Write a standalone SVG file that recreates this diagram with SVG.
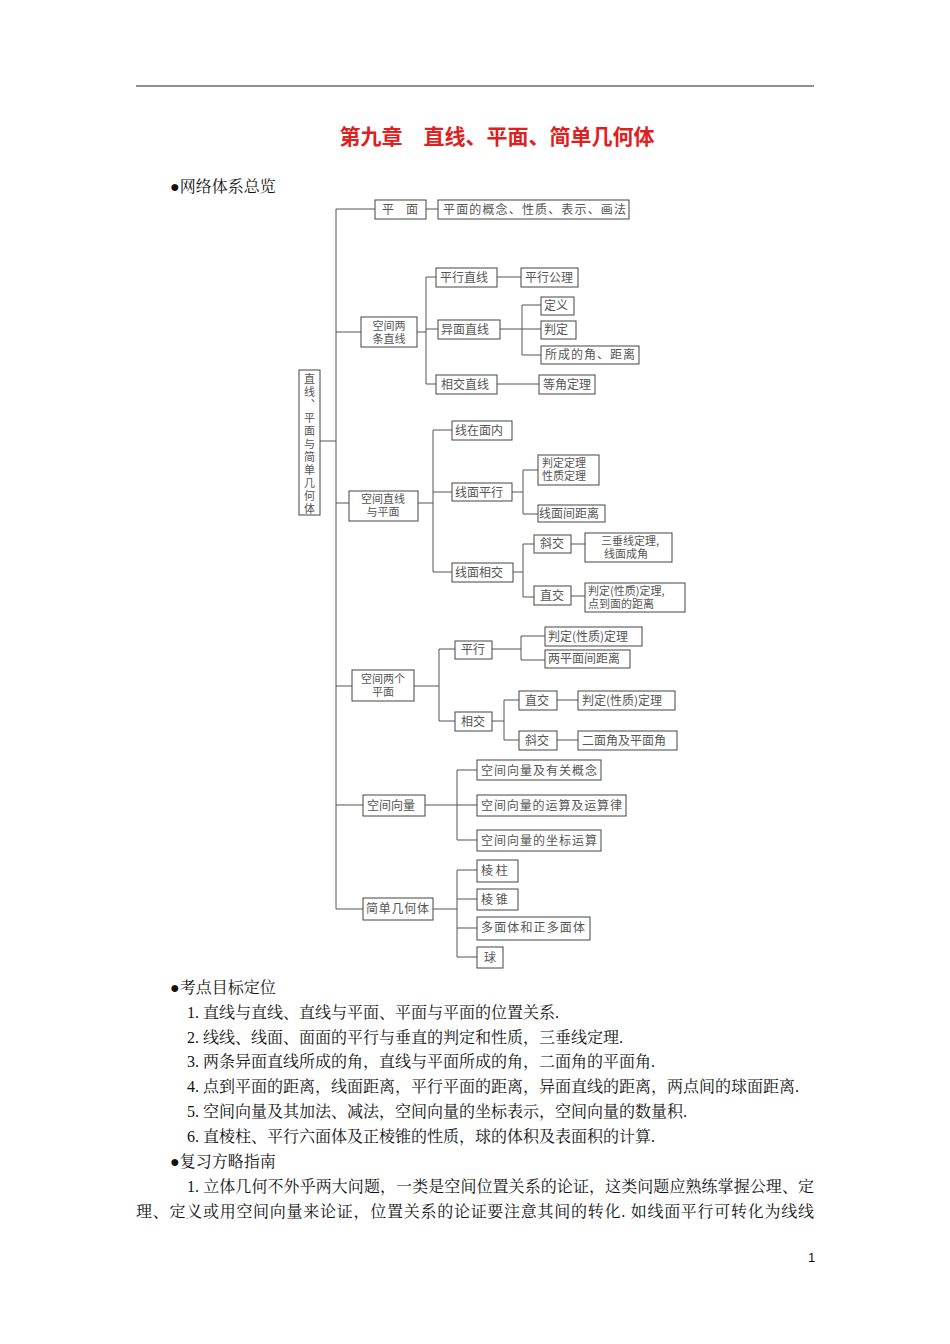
<svg xmlns="http://www.w3.org/2000/svg" width="950" height="1344" viewBox="0 0 950 1344">
<style>
.b{fill:#fff;stroke:#444;stroke-width:1}
.t{font-family:"Noto Sans CJK SC",sans-serif;font-size:12px;fill:#555}
.s{font-family:"Noto Sans CJK SC",sans-serif;font-size:11px;fill:#555}
.c{stroke:#555;stroke-width:1;fill:none}
.p{font-family:"Liberation Serif","Noto Serif CJK SC","Noto Sans CJK SC",serif;font-size:16px;fill:#111}
</style>
<rect width="950" height="1344" fill="#fff"/>
<line x1="136" y1="86" x2="814" y2="86" stroke="#222" stroke-width="1.2"/>
<text x="497" y="144" text-anchor="middle" font-family="'Noto Sans CJK SC',sans-serif" font-weight="bold" font-size="21" fill="#e02020">第九章　直线、平面、简单几何体</text>
<text class="p" x="170" y="192">●网络体系总览</text>
<g id="connectors">
<path class="c" d="M320 441H336M336 209V909M336 209H375M426 209H438M336 332H361M336 503H349M336 686H352M336 805H363M336 909H363"/>
<path class="c" d="M417 332H426M426 277V384M426 277H436M426 329H438M426 384H436M497 277H521M500 329H522M522 305V355M522 305H541M522 329H541M522 355H541M497 384H539"/>
<path class="c" d="M418 503H433M433 430V572M433 430H452M433 492H452M433 572H452M512 492H523M523 470V514M523 470H538M523 514H538M513 572H523M523 544V597M523 544H534M523 597H534M571 544H585M571 596H585"/>
<path class="c" d="M414 686H439M439 649V721M439 649H455M439 721H455M492 649H521M521 636V660M521 636H545M521 660H545M492 721H504M504 700V740M504 700H519M504 740H519M557 700H578M557 740H578"/>
<path class="c" d="M425 805H457M457 770V840M457 770H477M457 805H477M457 840H477M433 909H457M457 870V957M457 870H477M457 899H477M457 928H477M457 957H477"/>
</g>
<g id="root"><rect class="b" x="299" y="370" width="21" height="145"/>
<text class="s" x="309.5" y="373" writing-mode="tb" letter-spacing="2">直线、平面与简单几何体</text></g>
<g id="n1"><rect class="b" x="375" y="200" width="51" height="19"/><text class="t" x="400" y="214" text-anchor="middle">平　面</text></g>
<g id="n1a"><rect class="b" x="438" y="200" width="191" height="19"/><text class="t" x="443" y="214" textLength="183">平面的概念、性质、表示、画法</text></g>
<g id="n2"><rect class="b" x="361" y="317" width="56" height="30"/><text class="s" text-anchor="middle"><tspan x="389" y="330">空间两</tspan><tspan x="389" y="343">条直线</tspan></text></g>
<g id="n2a"><rect class="b" x="436" y="268" width="61" height="19"/><text class="t" x="440" y="282">平行直线</text></g>
<g id="n2b"><rect class="b" x="438" y="320" width="62" height="19"/><text class="t" x="441" y="334">异面直线</text></g>
<g id="n2c"><rect class="b" x="436" y="375" width="61" height="19"/><text class="t" x="441" y="389">相交直线</text></g>
<g id="n2a1"><rect class="b" x="521" y="268" width="57" height="19"/><text class="t" x="525" y="282">平行公理</text></g>
<g id="n2b1"><rect class="b" x="541" y="297" width="33" height="18"/><text class="t" x="544" y="310">定义</text></g>
<g id="n2b2"><rect class="b" x="541" y="321" width="35" height="18"/><text class="t" x="544" y="334">判定</text></g>
<g id="n2b3"><rect class="b" x="541" y="346" width="98" height="18"/><text class="t" x="545" y="359" textLength="90">所成的角、距离</text></g>
<g id="n2c1"><rect class="b" x="539" y="375" width="56" height="19"/><text class="t" x="543" y="389">等角定理</text></g>
<g id="n3"><rect class="b" x="349" y="491" width="69" height="30"/><text class="s" text-anchor="middle"><tspan x="383" y="503">空间直线</tspan><tspan x="383" y="516">与平面</tspan></text></g>
<g id="n3a"><rect class="b" x="452" y="421" width="60" height="19"/><text class="t" x="455" y="435">线在面内</text></g>
<g id="n3b"><rect class="b" x="452" y="483" width="60" height="18"/><text class="t" x="455" y="497">线面平行</text></g>
<g id="n3c"><rect class="b" x="452" y="563" width="61" height="19"/><text class="t" x="455" y="577">线面相交</text></g>
<g id="n3b1"><rect class="b" x="538" y="455" width="61" height="30"/><text class="s"><tspan x="542" y="467">判定定理</tspan><tspan x="542" y="480">性质定理</tspan></text></g>
<g id="n3b2"><rect class="b" x="538" y="505" width="67" height="17"/><text class="t" x="539" y="518">线面间距离</text></g>
<g id="n3c1"><rect class="b" x="534" y="535" width="37" height="18"/><text class="t" x="540" y="548">斜交</text></g>
<g id="n3c2"><rect class="b" x="534" y="586" width="37" height="19"/><text class="t" x="540" y="600">直交</text></g>
<g id="n3c1a"><rect class="b" x="585" y="533" width="87" height="29"/><text class="s" text-anchor="middle"><tspan x="630" y="545">三垂线定理,</tspan><tspan x="626" y="558">线面成角</tspan></text></g>
<g id="n3c2a"><rect class="b" x="585" y="583" width="100" height="29"/><text class="s"><tspan x="588" y="595">判定(性质)定理,</tspan><tspan x="588" y="608">点到面的距离</tspan></text></g>
<g id="n4"><rect class="b" x="352" y="670" width="62" height="31"/><text class="s" text-anchor="middle"><tspan x="383" y="683">空间两个</tspan><tspan x="383" y="696">平面</tspan></text></g>
<g id="n4a"><rect class="b" x="455" y="641" width="37" height="18"/><text class="t" x="461" y="654">平行</text></g>
<g id="n4b"><rect class="b" x="455" y="712" width="37" height="19"/><text class="t" x="461" y="726">相交</text></g>
<g id="n4a1"><rect class="b" x="545" y="627" width="97" height="19"/><text class="t" x="548" y="641">判定(性质)定理</text></g>
<g id="n4a2"><rect class="b" x="545" y="650" width="85" height="18"/><text class="t" x="548" y="663">两平面间距离</text></g>
<g id="n4b1"><rect class="b" x="519" y="691" width="38" height="19"/><text class="t" x="525" y="705">直交</text></g>
<g id="n4b2"><rect class="b" x="519" y="731" width="38" height="19"/><text class="t" x="525" y="745">斜交</text></g>
<g id="n4b1a"><rect class="b" x="578" y="691" width="97" height="19"/><text class="t" x="582" y="705">判定(性质)定理</text></g>
<g id="n4b2a"><rect class="b" x="578" y="731" width="99" height="19"/><text class="t" x="582" y="745">二面角及平面角</text></g>
<g id="n5"><rect class="b" x="363" y="795" width="62" height="21"/><text class="t" x="367" y="810">空间向量</text></g>
<g id="n5a"><rect class="b" x="477" y="760" width="124" height="20"/><text class="t" x="481" y="775" textLength="116">空间向量及有关概念</text></g>
<g id="n5b"><rect class="b" x="477" y="795" width="149" height="21"/><text class="t" x="481" y="810" textLength="141">空间向量的运算及运算律</text></g>
<g id="n5c"><rect class="b" x="477" y="830" width="124" height="21"/><text class="t" x="481" y="845" textLength="116">空间向量的坐标运算</text></g>
<g id="n6"><rect class="b" x="363" y="898" width="70" height="22"/><text class="t" x="366" y="913" textLength="63">简单几何体</text></g>
<g id="n6a"><rect class="b" x="477" y="860" width="41" height="22"/><text class="t" x="481" y="875">棱 柱</text></g>
<g id="n6b"><rect class="b" x="477" y="889" width="41" height="21"/><text class="t" x="481" y="904">棱 锥</text></g>
<g id="n6c"><rect class="b" x="477" y="917" width="113" height="23"/><text class="t" x="481" y="932" textLength="104">多面体和正多面体</text></g>
<g id="n6d"><rect class="b" x="477" y="947" width="26" height="21"/><text class="t" x="484" y="962">球</text></g>
<text class="p" x="170" y="993">●考点目标定位</text>
<text class="p" x="187" y="1018">1. 直线与直线、直线与平面、平面与平面的位置关系.</text>
<text class="p" x="187" y="1043">2. 线线、线面、面面的平行与垂直的判定和性质，三垂线定理.</text>
<text class="p" x="187" y="1067">3. 两条异面直线所成的角，直线与平面所成的角，二面角的平面角.</text>
<text class="p" x="187" y="1092">4. 点到平面的距离，线面距离，平行平面的距离，异面直线的距离，两点间的球面距离.</text>
<text class="p" x="187" y="1117">5. 空间向量及其加法、减法，空间向量的坐标表示，空间向量的数量积.</text>
<text class="p" x="187" y="1142">6. 直棱柱、平行六面体及正棱锥的性质，球的体积及表面积的计算.</text>
<text class="p" x="170" y="1167">●复习方略指南</text>
<text class="p" x="187" y="1192" textLength="627" lengthAdjust="spacing">1. 立体几何不外乎两大问题，一类是空间位置关系的论证，这类问题应熟练掌握公理、定</text>
<text class="p" x="136" y="1217" textLength="678" lengthAdjust="spacing">理、定义或用空间向量来论证，位置关系的论证要注意其间的转化. 如线面平行可转化为线线</text>
<text x="808" y="1262" font-family="'Liberation Sans',sans-serif" font-size="13" fill="#111">1</text>
</svg>
